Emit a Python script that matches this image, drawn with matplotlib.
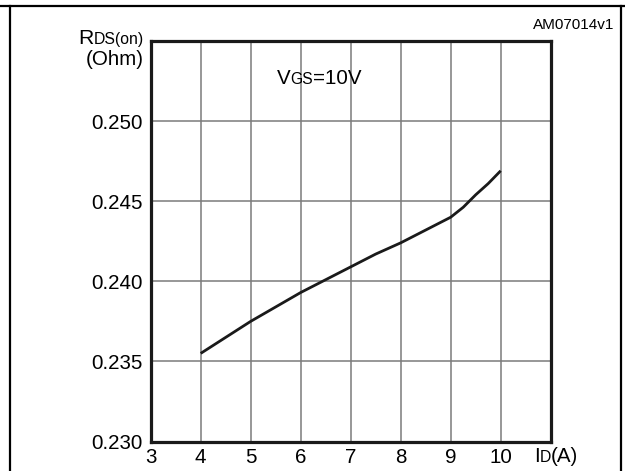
import matplotlib
matplotlib.use("Agg")
import matplotlib.pyplot as plt
from matplotlib.lines import Line2D

plt.rcParams['font.family'] = ['Liberation Sans', 'DejaVu Sans']

# Drain current (A) and on-state resistance (Ohm) at VGS = 10 V
drain_current = [4, 4.5, 5, 5.5, 6, 6.5, 7, 7.5, 8, 8.5, 9, 9.25, 9.5, 9.75, 10]
rds_on = [0.2355, 0.2365, 0.2375, 0.2384, 0.2393, 0.2401, 0.2409, 0.2417,
          0.2424, 0.2432, 0.2440, 0.24462, 0.2454, 0.2461, 0.2469]

x_ticks = [3, 4, 5, 6, 7, 8, 9, 10]
y_ticks = [0.230, 0.235, 0.240, 0.245, 0.250]
y_tick_labels = ["0.230", "0.235", "0.240", "0.245", "0.250"]

W, H = 625, 471
BIG, SMALL = 14.8, 11.3

fig = plt.figure(figsize=(W / 100, H / 100), dpi=100)
ax = fig.add_axes([150.7 / W, (H - 441.5) / H, 400 / W, 400.5 / H])

ax.plot(drain_current, rds_on, color='#1a1a1a', lw=2.0, solid_capstyle='butt',
        solid_joinstyle='round', zorder=3)

ax.set_xlim(3, 11)
ax.set_ylim(0.230, 0.255)
ax.set_xticks(x_ticks)
ax.set_xticklabels([str(v) for v in x_ticks])
ax.set_yticks(y_ticks)
ax.set_yticklabels(y_tick_labels)
ax.tick_params(length=0, labelsize=BIG, colors='black')
ax.tick_params(axis='x', pad=4.5)
ax.tick_params(axis='y', pad=6)
ax.grid(True, color='#7a7a7a', lw=1.1)
ax.set_axisbelow(True)
for s in ax.spines.values():
    s.set_linewidth(2.3)
    s.set_color('#1a1a1a')

# Frame around the figure: top rule plus side rules
for xs, ys in [((0, W), (5.7, 5.7)), ((9.7, 9.7), (5.7, H)), ((621, 621), (5.7, H))]:
    fig.add_artist(Line2D([x / W for x in xs], [(H - y) / H for y in ys],
                          transform=fig.transFigure, color='black', lw=1.6))

fig.canvas.draw()
renderer = fig.canvas.get_renderer()


def text_run(pieces, x, y, align='left'):
    """Draw consecutive text pieces of mixed sizes on a common baseline (pixel coords)."""
    arts = []
    widths = []
    for s, size in pieces:
        t = fig.text(0, 0, s, fontsize=size, va='baseline', ha='left',
                     transform=None)
        widths.append(t.get_window_extent(renderer).width)
        arts.append(t)
    total = sum(widths)
    cx = x - total if align == 'right' else x
    for t, w in zip(arts, widths):
        t.set_position((cx, H - y))
        cx += w


text_run([("R", BIG + 0.5), ("DS(on)", SMALL)], 144, 44.3, align='right')
text_run([("(Ohm)", BIG)], 144, 65, align='right')
text_run([("V", BIG), ("GS", SMALL), ("=10V", BIG)], 276.5, 84)
text_run([("I", BIG), ("D", SMALL), ("(A)", BIG)], 534, 462)
text_run([("AM07014v1", 11)], 614, 29.3, align='right')

fig.savefig("out.png", dpi=100)
